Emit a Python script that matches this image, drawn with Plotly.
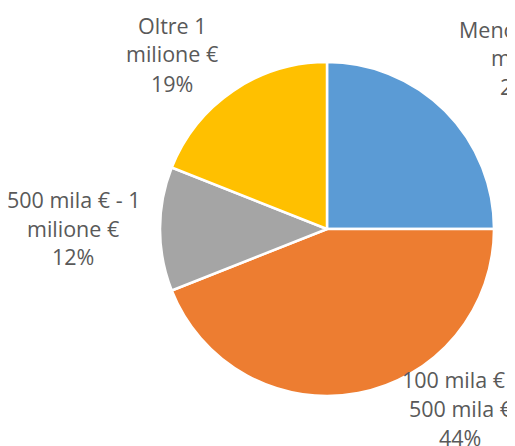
import plotly.graph_objects as go

categories = ["Meno di 100 mila €", "100 mila € - 500 mila €", "500 mila € - 1 milione €", "Oltre 1 milione €"]
label_lines = [["Meno di 100", "mila €"], ["100 mila € -", "500 mila €"], ["500 mila € - 1", "milione €"], ["Oltre 1", "milione €"]]
values = [25, 44, 12, 19]
colors = ["#5B9BD5", "#ED7D31", "#A5A5A5", "#FFC000"]

W, H = 515, 446
OFF = 8  # page body margin
# label anchor positions (pixel centre x, first-line centre y) in screenshot pixels
label_pos = [(521, 29), (460, 379), (73, 199), (172, 25)]
line_gap = 29
cx, cy, r = 327 - OFF, 229 - OFF, 167

fig = go.Figure()
fig.add_trace(go.Pie(
    labels=categories, values=values, sort=False, direction="clockwise", rotation=0,
    marker=dict(colors=colors, line=dict(color="white", width=2.5)),
    textinfo="none", hoverinfo="label+percent", showlegend=False,
    domain=dict(x=[(cx - r) / W, (cx + r) / W], y=[(H - cy - r) / H, (H - cy + r) / H]),
))

annotations = []
for lines, v, (px, py) in zip(label_lines, values, label_pos):
    for i, t in enumerate(lines + [f"{v}%"]):
        annotations.append(dict(
            x=(px - OFF) / W, y=1 - (py - OFF + i * line_gap) / H, xref="paper", yref="paper",
            text=t, showarrow=False, xanchor="center", yanchor="middle",
            font=dict(family="Open Sans", size=21.5, color="#595959"),
        ))

fig.update_layout(
    width=W, height=H, margin=dict(l=0, r=0, t=0, b=0),
    paper_bgcolor="white", plot_bgcolor="white", annotations=annotations,
)
fig.write_html("out.html")
